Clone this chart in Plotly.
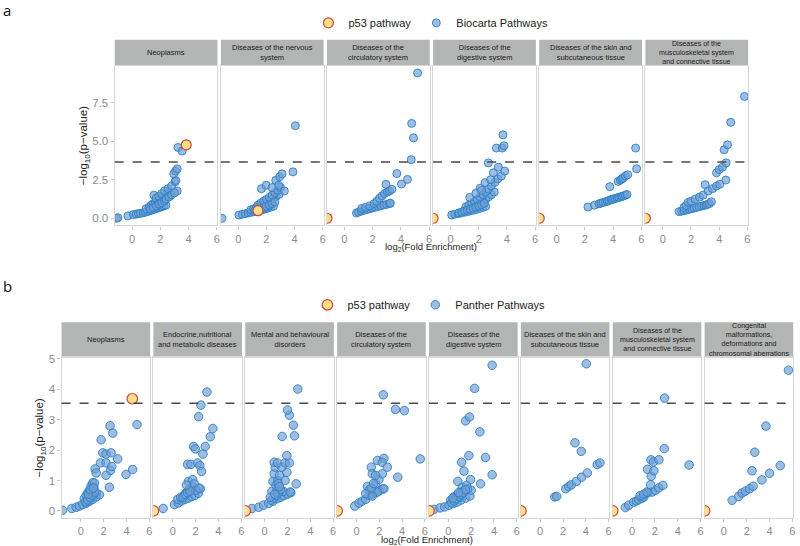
import plotly.graph_objects as go

NEG_INF = float("-inf")

# ---------------- Panel a: Biocarta pathways ----------------
A_LABELS = ["Neoplasms", "Diseases of the nervous<br>system", "Diseases of the<br>circulatory system",
            "Diseases of the<br>digestive system", "Diseases of the skin and<br>subcutaneous tissue",
            "Diseases of the<br>musculoskeletal system<br>and connective tissue"]

a_neo_x = [-1.1, -1.0, -0.3, 0.1, 0.3, 0.45, 0.6, 0.8, 0.95, 1.1, 1.25, 1.4, 1.55, 1.7, 1.85, 2.0, 2.1, 2.25, 2.4,
           1.0, 1.2, 1.35, 1.5, 1.65, 1.8, 1.95, 2.1, 2.25, 2.45, 2.6,
           1.55, 1.7, 1.9, 2.1, 2.3, 2.55, 2.8, 3.05,
           2.0, 2.35, 2.7, 3.2, 3.1,
           1.3, 1.5, 1.7, 1.9, 2.1, 2.3, 2.4, 2.6, 2.8, 3.0,
           2.95, 3.08, 3.2, 3.25, 3.55]
a_neo_y = [0.0, 0.04, 0.15, 0.24, 0.27, 0.3, 0.32, 0.35, 0.4, 0.44, 0.48, 0.53, 0.58, 0.63, 0.68, 0.72, 0.76, 0.8, 0.85,
           0.62, 0.72, 0.84, 0.95, 1.05, 1.15, 1.24, 1.32, 1.42, 1.58, 1.7,
           1.5, 1.3, 1.42, 1.6, 1.78, 1.92, 2.1, 2.37,
           1.0, 1.2, 1.45, 1.77, 2.45,
           0.6, 0.7, 0.8, 0.92, 1.02, 1.12, 1.25, 1.38, 1.52, 1.65,
           2.88, 3.06, 3.2, 4.59, 4.36]

a_ner_x = [-1.15, 0.05, 0.3, 0.5, 0.7, 0.9, 1.1, 1.3, 1.5, 1.7, 1.9, 2.1, 2.3, 2.5,
           0.9, 1.1, 1.3, 1.5, 1.7, 1.9, 2.1, 2.3, 2.5, 2.7, 2.9,
           1.4, 1.6, 1.8, 2.0, 2.2, 2.4, 2.6, 2.8, 3.0, 3.27,
           1.2, 1.4, 1.6, 1.8, 2.0, 2.2, 2.4, 2.6,
           1.65, 1.98, 2.4, 2.66, 2.94, 3.11, 2.87, 3.88, 4.05]
a_ner_y = [0.0, 0.21, 0.26, 0.3, 0.34, 0.38, 0.42, 0.46, 0.5, 0.55, 0.6, 0.66, 0.72, 0.78,
           0.55, 0.62, 0.7, 0.78, 0.87, 0.96, 1.06, 1.17, 1.3, 1.42, 1.55,
           0.85, 0.98, 1.1, 1.22, 1.35, 1.5, 1.66, 1.82, 2.0, 1.77,
           0.5, 0.56, 0.63, 0.7, 0.78, 0.86, 0.95, 1.05,
           1.92, 2.14, 1.99, 2.46, 2.69, 2.88, 2.14, 3.01, 6.0]

a_cir_x = [0.86, 1.0, 1.2, 1.4, 1.6, 1.8, 2.0, 2.2, 2.4, 2.6, 2.8, 3.0, 3.2, 3.26,
           1.23, 1.5, 1.8, 2.1, 2.3, 2.49, 2.67, 2.85, 3.05, 3.2, 3.37,
           2.95, 3.72, 4.05, 4.47, 4.74, 4.9, 4.77, 5.19]
a_cir_y = [0.34, 0.4, 0.46, 0.52, 0.57, 0.62, 0.67, 0.72, 0.77, 0.81, 0.86, 0.9, 0.95, 0.98,
           0.64, 0.7, 0.8, 0.95, 1.1, 1.3, 1.45, 1.6, 1.7, 1.77, 1.88,
           2.2, 2.9, 2.22, 2.52, 3.8, 5.21, 6.15, 9.42]

a_dig_x = [0.09, 0.3, 0.55, 0.8, 1.05, 1.3, 1.55, 1.8, 2.05, 2.3, 2.49,
           0.9, 1.1, 1.3, 1.5, 1.7, 1.9, 2.1, 2.3, 2.5, 2.7, 2.9, 3.1,
           1.1, 1.3, 1.5, 1.7, 1.9, 2.1, 2.3, 2.5, 2.7, 2.9, 3.15, 3.35,
           0.6, 0.8, 1.0, 1.2, 1.4, 1.6, 1.8, 2.0, 2.2, 2.4,
           1.36, 1.8, 2.1, 2.45, 2.68, 3.04, 3.39, 3.6, 3.84, 3.25, 3.67, 3.79, 3.72, 2.2, 2.85]
a_dig_y = [0.21, 0.26, 0.3, 0.35, 0.4, 0.45, 0.5, 0.56, 0.63, 0.7, 0.77,
           0.45, 0.52, 0.6, 0.68, 0.77, 0.87, 0.98, 1.1, 1.24, 1.38, 1.53, 1.7,
           0.75, 0.85, 0.96, 1.08, 1.22, 1.37, 1.53, 1.7, 1.9, 2.1, 2.33, 2.55,
           0.35, 0.4, 0.46, 0.52, 0.58, 0.65, 0.72, 0.8, 0.88, 0.97,
           1.35, 1.62, 1.95, 2.31, 3.59, 2.95, 3.31, 2.74, 3.06, 4.55, 4.55, 4.7, 5.41, 1.8, 2.5]

a_ski_x = [2.22, 2.69, 3.0, 3.15, 3.3, 3.47, 3.6, 3.7, 3.85, 3.93, 4.05, 4.17, 4.3, 4.4, 4.55, 4.64, 4.75, 4.87, 4.99,
           3.77, 4.36, 4.52, 4.62, 4.71, 4.87, 5.04, 5.67, 5.6]
a_ski_y = [0.73, 0.85, 0.94, 0.98, 1.03, 1.07, 1.11, 1.15, 1.2, 1.22, 1.26, 1.29, 1.32, 1.36, 1.39, 1.42, 1.45, 1.5, 1.54,
           2.05, 2.39, 2.48, 2.55, 2.61, 2.74, 2.82, 3.21, 4.55]

a_mus_x = [1.16, 1.35, 1.51, 1.7, 1.87, 2.05, 2.22, 2.4, 2.58, 2.75, 2.93, 3.05, 3.17, 3.3, 3.45,
           1.5, 1.65, 1.8, 2.0, 2.29, 2.6, 2.86,
           3.0, 3.22, 3.52, 3.81, 4.04, 4.47, 3.81, 4.0, 4.23, 4.49, 4.35, 4.59, 4.82, 5.79]
a_mus_y = [0.43, 0.46, 0.49, 0.53, 0.58, 0.62, 0.66, 0.7, 0.75, 0.79, 0.83, 0.86, 0.9, 0.95, 1.07,
           0.7, 0.82, 1.03, 1.1, 1.24, 1.37, 1.5,
           2.18, 1.77, 1.92, 2.09, 2.2, 2.48, 2.95, 3.16, 3.31, 3.59, 4.44, 4.76, 6.22, 7.9]

# p53 pathway per disease (x = log2 FE, -inf when no enrichment)
a_p53_x = [3.84, 1.4, NEG_INF, NEG_INF, NEG_INF, NEG_INF]
a_p53_y = [4.76, 0.49, 0.0, 0.0, 0.0, 0.0]
a_threshold = 3.65

# ---------------- Panel b: Panther pathways ----------------
B_LABELS = ["Neoplasms", "Endocrine,nutritional<br>and metabolic diseases", "Mental and behavioural<br>disorders",
            "Diseases of the<br>circulatory system", "Diseases of the<br>digestive system",
            "Diseases of the skin and<br>subcutaneous tissue",
            "Diseases of the<br>musculoskeletal system<br>and connective tissue",
            "Congenital<br>malformations,<br>deformations and<br>chromosomal aberrations"]

b_neo_x = [-1.6, -0.79, -0.41, -0.12, 0.17, 0.47, 0.76, 1.05, 1.34, 1.63,
           0.3, 0.47, 0.61, 0.76, 0.9, 1.05, 1.14, 1.2, 0.9, 1.34, 0.55, 0.7,
           0.4, 0.6, 0.8, 1.0, 1.2, 0.65, 0.85, 1.1,
           1.25, 1.34, 1.72, 1.78, 1.92, 2.21, 2.65, 2.21, 2.59, 2.21, 2.71, 3.23, 2.56, 2.8, 2.5, 3.96, 4.54, 4.92]
b_neo_y = [0.02, 0.08, 0.12, 0.16, 0.21, 0.25, 0.32, 0.38, 0.46, 0.53,
           0.4, 0.51, 0.6, 0.68, 0.82, 0.93, 0.78, 0.92, 0.45, 0.6, 0.3, 0.42,
           0.3, 0.36, 0.45, 0.52, 0.62, 0.55, 0.7, 0.75,
           1.38, 1.25, 1.58, 2.34, 1.91, 1.87, 1.91, 1.58, 1.33, 1.17, 1.46, 1.71, 2.8, 2.56, 0.78, 1.2, 1.36, 2.84]

b_end_x = [-0.84, 0.15, 0.49, 0.79, 1.08, 1.37, 1.66, 1.95, 2.24, 2.42,
           0.44, 0.7, 1.02, 1.25, 1.46, 1.75, 1.37, 1.75, 1.89, 2.04, 2.3,
           0.9, 1.1, 1.3, 1.5, 1.2,
           1.31, 1.6, 2.18, 2.38, 2.53, 1.83, 1.98, 2.85, 2.65, 3.52, 3.29, 2.27, 2.47, 3.0]
b_end_y = [0.08, 0.21, 0.26, 0.33, 0.38, 0.42, 0.47, 0.51, 0.58, 0.73,
           0.38, 0.45, 0.51, 0.62, 0.73, 0.78, 0.97, 1.03, 0.89, 0.68, 0.75,
           0.45, 0.55, 0.6, 0.65, 0.85,
           1.53, 1.53, 1.58, 1.49, 1.3, 2.12, 2.04, 2.12, 1.87, 2.71, 2.44, 3.1, 3.48, 3.91]

b_men_x = [-1.1, -0.52, -0.09, 0.35, 0.73, 1.08, 1.4, 1.7, 2.0, 2.3, 2.77,
           0.64, 1.08, 1.66, 2.24, 0.73, 1.16, 1.8, 0.84, 1.31, 1.95, 0.93, 1.51,
           0.6, 0.8, 1.0, 1.2, 1.4, 1.0, 1.2,
           0.84, 1.14, 1.8, 2.18, 1.95, 1.54, 2.62, 2.53, 2.18, 2.01, 2.91, 0.5, 0.9, 1.3]
b_men_y = [0.08, 0.12, 0.19, 0.25, 0.32, 0.4, 0.45, 0.5, 0.55, 0.6, 0.89,
           0.64, 0.68, 0.64, 0.62, 0.97, 1.0, 1.0, 1.22, 1.17, 1.27, 1.44, 1.44,
           0.35, 0.42, 0.5, 0.6, 0.7, 0.85, 0.9,
           1.6, 1.58, 1.58, 1.58, 1.82, 2.45, 2.47, 2.82, 3.15, 3.32, 4.01, 0.45, 0.55, 0.8]

b_cir_x = [-0.14, 0.23, 0.5, 0.81, 1.1, 1.4, 1.7, 2.0, 2.3,
           0.96, 1.68, 2.41, 1.1, 1.83, 0.81, 1.39, 1.97, 1.3, 1.5,
           1.83, 2.41, 2.26, 1.3, 2.7, 1.39, 2.26, 1.68, 3.62, 5.59, 2.35, 3.42, 4.2]
b_cir_y = [0.16, 0.26, 0.32, 0.38, 0.51, 0.55, 0.6, 0.66, 0.72,
           0.81, 0.89, 0.73, 0.68, 0.62, 0.57, 0.49, 1.03, 0.75, 0.9,
           1.66, 1.73, 1.6, 1.44, 1.44, 1.22, 1.22, 1.17, 1.11, 1.71, 3.82, 3.34, 3.3]

b_dig_x = [-1.25, -0.73, -0.32, 0.06, 0.44, 0.78, 1.13, 1.51, 1.89, 2.0,
           0.2, 0.49, 0.78, 1.08, 0.84, 1.22, 1.6, 1.95, 1.37, 0.6, 1.0, 1.7,
           0.3, 0.5, 0.7, 0.9, 1.1, 1.3, 1.5, 0.4, 0.9,
           1.16, 1.37, 1.8, 3.26, 3.84, 2.82, 2.76, 1.51, 1.86, 2.3, 3.84]
b_dig_y = [0.05, 0.1, 0.13, 0.19, 0.24, 0.29, 0.36, 0.42, 0.49, 0.68,
           0.35, 0.46, 0.53, 0.62, 0.97, 0.78, 0.84, 1.03, 0.64, 0.38, 0.45, 0.72,
           0.27, 0.33, 0.4, 0.48, 0.55, 0.6, 0.7, 0.42, 0.6,
           1.6, 1.31, 1.82, 1.76, 1.19, 0.89, 2.6, 2.96, 3.09, 4.03, 4.79]

b_ski_x = [1.28, 1.45, 2.24, 2.5, 2.73, 3.17, 3.63, 4.13, 5.0, 5.23, 3.6, 3.05, 4.04]
b_ski_y = [0.46, 0.48, 0.73, 0.8, 0.86, 0.97, 1.11, 1.25, 1.53, 1.58, 1.96, 2.24, 4.84]

b_mus_x = [-0.59, -0.29, 0.15, 0.4, 0.59, 0.88, 1.03, 1.18, 1.4, 1.76, 2.06, 2.35, 2.7,
           0.7, 1.0, 1.3, 1.62, 1.68, 1.35, 1.91, 1.65, 1.88, 2.35, 2.82, 5.0, 2.85]
b_mus_y = [0.11, 0.19, 0.29, 0.33, 0.37, 0.42, 0.46, 0.57, 0.6, 0.62, 0.68, 0.76, 0.84,
           0.5, 0.55, 0.62, 0.86, 1.14, 1.37, 1.32, 1.68, 1.61, 1.68, 2.05, 1.51, 3.71]

b_con_x = [0.72, 1.3, 1.59, 1.88, 2.26, 2.55, 3.33, 4.0, 4.93, 2.46, 2.7, 3.68, 5.65]
b_con_y = [0.35, 0.48, 0.59, 0.65, 0.73, 0.81, 1.02, 1.24, 1.49, 1.32, 1.93, 2.79, 4.63]

b_p53_x = [4.51, NEG_INF, NEG_INF, NEG_INF, NEG_INF, NEG_INF, NEG_INF, NEG_INF]
b_p53_y = [3.69, 0.0, 0.0, 0.0, 0.0, 0.0, 0.0, 0.0]
b_threshold = 3.54

A_X = [a_neo_x, a_ner_x, a_cir_x, a_dig_x, a_ski_x, a_mus_x]
A_Y = [a_neo_y, a_ner_y, a_cir_y, a_dig_y, a_ski_y, a_mus_y]
B_X = [b_neo_x, b_end_x, b_men_x, b_cir_x, b_dig_x, b_ski_x, b_mus_x, b_con_x]
B_Y = [b_neo_y, b_end_y, b_men_y, b_cir_y, b_dig_y, b_ski_y, b_mus_y, b_con_y]

# ---------------- layout helpers ----------------
W, H = 800, 546
FONT = "Liberation Sans, Arial, Helvetica, sans-serif"
BLUE_FILL = "rgba(115,158,211,0.68)"
BLUE_LINE = "rgba(40,130,198,0.9)"
P53_FILL = "#FFDF85"
P53_LINE = "#D2423C"
TICK_COL = "#8a8a8a"
FRAME_COL = "#d6d6d6"
STRIP_COL = "#b3b4b4"


def px(x):
    return x / W


def py(y):
    return 1 - y / H


fig = go.Figure()
layout = {}
shapes = []
annotations = []

rows = [
    dict(labels=A_LABELS, xs=A_X, ys=A_Y, p53x=a_p53_x, p53y=a_p53_y, thr=a_threshold,
         left0=115.0, w=103.0, gap=3.4, top=62.0, bottom=223.0, strip_top=36.0,
         xrange=[-1.23, 6.05], yrange=[-0.46, 9.9], ytick=[0, 2.5, 5, 7.5], ytext=["0.0", "2.5", "5.0", "7.5"],
         name="Biocarta Pathways", legend="legend", size=8, p53size=10,
         ytitle_x=85, xtitle_y=245, legend_y=19, legend_cx=432, letter="a", letter_y=6),
    dict(labels=B_LABELS, xs=B_X, ys=B_Y, p53x=b_p53_x, p53y=b_p53_y, thr=b_threshold,
         left0=61.7, w=88.8, gap=3.3, top=356.0, bottom=517.7, strip_top=320.7,
         xrange=[-1.69, 6.07], yrange=[-0.23, 5.05], ytick=[0, 1, 2, 3, 4, 5], ytext=["0", "1", "2", "3", "4", "5"],
         name="Panther Pathways", legend="legend2", size=8.5, p53size=10.5,
         ytitle_x=40, xtitle_y=540, legend_y=303, legend_cx=430, letter="b", letter_y=284),
]

k = 0
for r in rows:
    n = len(r["labels"])
    for i in range(n):
        k += 1
        sfx = "" if k == 1 else str(k)
        L = r["left0"] + i * (r["w"] + r["gap"])
        R = L + r["w"]
        layout["xaxis" + sfx] = dict(
            domain=[px(L), px(R)], anchor="y" + sfx, range=r["xrange"], tickvals=[0, 2, 4, 6],
            ticks="outside", ticklen=3, tickcolor="#c8c8c8", tickfont=dict(size=11, color=TICK_COL, family=FONT),
            showgrid=False, zeroline=False, showline=True, mirror=True, linecolor=FRAME_COL, linewidth=1.3,
            fixedrange=True)
        layout["yaxis" + sfx] = dict(
            domain=[py(r["bottom"]), py(r["top"])], anchor="x" + sfx, range=r["yrange"],
            tickvals=r["ytick"], ticktext=r["ytext"], showticklabels=(i == 0),
            ticks="outside" if i == 0 else "", ticklen=3, tickcolor="#c8c8c8",
            tickfont=dict(size=11.5, color=TICK_COL, family=FONT),
            showgrid=False, zeroline=False, showline=True, mirror=True, linecolor=FRAME_COL, linewidth=1.3,
            fixedrange=True)
        xa, ya = "x" + sfx, "y" + sfx
        fig.add_trace(go.Scatter(
            x=r["xs"][i], y=r["ys"][i], mode="markers", xaxis=xa, yaxis=ya,
            name=r["name"], legend=r["legend"], legendgroup=r["name"], showlegend=(i == 0), legendrank=2,
            marker=dict(size=r["size"], color=BLUE_FILL, line=dict(color=BLUE_LINE, width=1)),
            cliponaxis=True, hoverinfo="x+y"))
        p53x = [r["xrange"][0] if v == NEG_INF else v for v in [r["p53x"][i]]]
        fig.add_trace(go.Scatter(
            x=p53x, y=[r["p53y"][i]], mode="markers", xaxis=xa, yaxis=ya,
            name="p53 pathway", legend=r["legend"], legendgroup="p53" + r["legend"], showlegend=(i == 0),
            legendrank=1,
            marker=dict(size=r["p53size"], color=P53_FILL, line=dict(color=P53_LINE, width=1.2)),
            cliponaxis=True, hoverinfo="x+y"))
        # strip
        shapes.append(dict(type="rect", xref="paper", yref="paper", x0=px(L), x1=px(R),
                           y0=py(r["top"]), y1=py(r["strip_top"]), fillcolor=STRIP_COL,
                           line=dict(width=0), layer="below"))
        nlines = r["labels"][i].count("<br>") + 1
        annotations.append(dict(text=r["labels"][i], xref="paper", yref="paper",
                                x=px((L + R) / 2), y=py((r["top"] + r["strip_top"]) / 2),
                                showarrow=False, xanchor="center", yanchor="middle",
                                font=dict(size=7.5 if nlines < 3 else 7.1, color="#1a1a1a", family=FONT)))
        # significance threshold
        shapes.append(dict(type="line", xref=xa + " domain", yref=ya, x0=0, x1=1,
                           y0=r["thr"], y1=r["thr"], line=dict(color="#4a4a4a", width=1.4, dash="dash")))
    grid_left = r["left0"]
    grid_right = r["left0"] + n * r["w"] + (n - 1) * r["gap"]
    annotations.append(dict(text="\u2212log<sub>10</sub>(p\u2212value)", xref="paper", yref="paper",
                            x=px(r["ytitle_x"]), y=py((r["top"] + r["bottom"]) / 2), textangle=-90,
                            showarrow=False, xanchor="center", yanchor="middle",
                            font=dict(size=11.5, color="#222222", family=FONT)))
    annotations.append(dict(text="log<sub>2</sub>(Fold Enrichment)", xref="paper", yref="paper",
                            x=px((grid_left + grid_right) / 2), y=py(r["xtitle_y"]),
                            showarrow=False, xanchor="center", yanchor="middle",
                            font=dict(size=9.5, color="#222222", family=FONT)))
    annotations.append(dict(text=r["letter"], xref="paper", yref="paper", x=px(1), y=py(r["letter_y"]),
                            showarrow=False, xanchor="left", yanchor="middle",
                            font=dict(size=15, color="#111111", family="Open Sans, sans-serif")))
    layout[r["legend"]] = dict(orientation="h", x=px(r["legend_cx"]), xanchor="center",
                               y=py(r["legend_y"]), yanchor="middle", bgcolor="rgba(0,0,0,0)",
                               font=dict(size=11, color="#222222", family=FONT),
                               itemwidth=30, tracegroupgap=0, traceorder="normal")

fig.update_layout(
    width=W, height=H, margin=dict(l=0, r=0, t=0, b=0),
    paper_bgcolor="white", plot_bgcolor="white",
    shapes=shapes, annotations=annotations, showlegend=True,
    **layout)

fig.write_html("out.html", config={"displayModeBar": False},
               post_script="document.body.style.margin='0px';document.body.style.padding='0px';")
